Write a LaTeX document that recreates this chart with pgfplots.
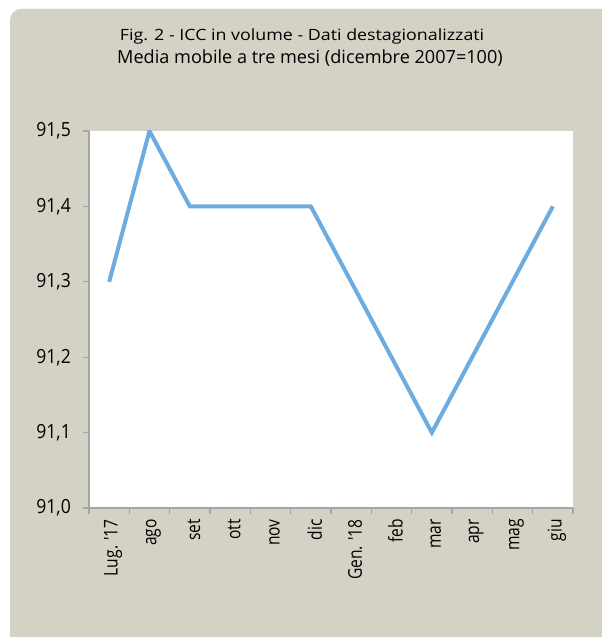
\documentclass[border=0pt]{standalone}
\usepackage{fontspec}
\setmainfont{Open Sans}
\newfontfamily\condfont[FakeStretch=0.82]{Open Sans}
\newfontfamily\ytfont[FakeStretch=0.9]{Open Sans}
\newfontfamily\widefont[FakeStretch=1.15]{Open Sans}
\usepackage{pgfplots}
\pgfplotsset{compat=1.18}
\definecolor{panel}{RGB}{212,209,197}
\definecolor{serie}{RGB}{108,172,224}
\definecolor{axgrey}{RGB}{165,165,165}
\begin{document}
\begin{tikzpicture}[x=1pt,y=1pt]
\path[use as bounding box] (0,0) rectangle (602,637);
\fill[white] (0,0) rectangle (602,637);
\fill[panel, rounded corners=11pt] (10,-30) -- (10,628) -- (630,628) -- (630,-30) -- cycle;
\node[anchor=base, inner sep=0pt] at (302,596) {\widefont\fontsize{15.5}{15.5}\selectfont Fig. 2 - ICC in volume - Dati destagionalizzati};
\node[anchor=base, inner sep=0pt] at (310,573) {\fontsize{18.1}{18.1}\selectfont Media mobile a tre mesi (dicembre 2007=100)};
\begin{axis}[
  at={(89pt,129pt)}, anchor=south west, scale only axis,
  width=484pt, height=377pt,
  xmin=-0.5, xmax=11.5, ymin=91.0, ymax=91.5,
  axis x line*=bottom, axis y line*=left,
  axis line style={axgrey, line width=1.5pt, -},
  axis background/.style={fill=white},
  xtick={0,...,11},
  xticklabels={Lug. '17,ago,set,ott,nov,dic,Gen. '18,feb,mar,apr,mag,giu},
  minor xtick={-0.5,0.5,1.5,2.5,3.5,4.5,5.5,6.5,7.5,8.5,9.5,10.5,11.5},
  major x tick style={draw=none},
  tick style={axgrey, line width=1.2pt},
  tick align=outside,
  major tick length=6pt, minor tick length=6pt,
  ytick={91,91.1,91.2,91.3,91.4,91.5},
  /pgf/number format/fixed, /pgf/number format/fixed zerofill,
  /pgf/number format/precision=1, /pgf/number format/use comma,
  /pgf/number format/assume math mode=true,
  yticklabel style={font=\ytfont\fontsize{19.5}{19.5}\selectfont, anchor=east, inner sep=0pt, xshift=-12pt},
  xticklabel style={font=\condfont\fontsize{19}{19}\selectfont, rotate=90, anchor=east, inner sep=0pt, xshift=-5pt, yshift=-4pt},
]
\addplot[serie, line width=4pt] coordinates {
  (0,91.3) (1,91.5) (2,91.4) (3,91.4) (4,91.4) (5,91.4)
  (6,91.3) (7,91.2) (8,91.1) (9,91.2) (10,91.3) (11,91.4)
};
\end{axis}
\end{tikzpicture}
\end{document}
